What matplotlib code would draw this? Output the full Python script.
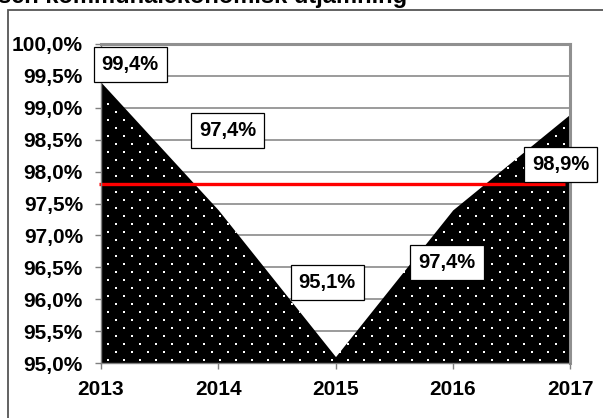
import matplotlib
matplotlib.use("Agg")
import matplotlib.pyplot as plt
from matplotlib.patches import Rectangle
import numpy as np

plt.rcParams['font.family'] = ['Liberation Sans', 'DejaVu Sans']
plt.rcParams['font.weight'] = 'bold'

# data
years = [2013, 2014, 2015, 2016, 2017]
values = [99.4, 97.4, 95.1, 97.4, 98.9]
labels = ['99,4%', '97,4%', '95,1%', '97,4%', '98,9%']
# where each value label sits
label_x = [2013.25, 2014.08, 2014.93, 2015.95, 2016.92]
label_y = [99.68, 98.64, 96.26, 96.57, 98.11]
mean_level = 97.8
yticks = [95.0, 95.5, 96.0, 96.5, 97.0, 97.5, 98.0, 98.5, 99.0, 99.5, 100.0]
title = 'sen kommunalekonomisk utjämning'

fig = plt.figure(figsize=(6.03, 4.18), dpi=100)
ax = fig.add_axes([101/603, 1 - 363/418, 469/603, 319/418])

# outer frame of the chart object
frame = Rectangle((8/603, -0.1), 1.2, 1.1 - 10/418, transform=fig.transFigure,
                  fill=False, edgecolor='#555555', linewidth=1.3, clip_on=False)
fig.patches.append(frame)

fig.text(-0.004, 1 - 3.5/418, title, fontsize=17, fontweight='bold', ha='left', va='baseline')

ax.set_xlim(2013, 2017)
ax.set_ylim(95, 100)

for yv in yticks[1:-1]:
    ax.axhline(yv, color='#808080', linewidth=1.1, zorder=1)

poly = ax.fill_between(years, 95, values, facecolor='black', edgecolor='black',
                       linewidth=0, zorder=2)

# white dot texture inside the area
px_w, px_h = 469, 319
pts_x, pts_y = [], []
for i, yy in enumerate(np.arange(3, px_h, 8)):
    off = 8 if i % 2 else 0
    for xx in np.arange(7 + off, px_w, 16):
        pts_x.append(xx / px_w)
        pts_y.append(yy / px_h)
dots = ax.scatter(pts_x, pts_y, s=3.0, marker='s', color='white', linewidths=0,
                  transform=ax.transAxes, zorder=3)
dots.set_clip_path(poly.get_paths()[0], ax.transData)

ax.plot([2012.98, 2016.96], [mean_level, mean_level], color='#ff0000',
        linewidth=2.4, zorder=4, clip_on=False, solid_capstyle='butt')

for lx, ly, t in zip(label_x, label_y, labels):
    ax.text(lx, ly, t, fontsize=14.5, fontweight='bold', ha='center', va='center',
            zorder=6, clip_on=False,
            bbox=dict(boxstyle='square,pad=0.4', facecolor='white',
                      edgecolor='black', linewidth=0.9))

ax.set_xticks(years)
ax.set_xticklabels([str(y) for y in years])
ax.set_yticks(yticks)
ax.set_yticklabels([('%.1f%%' % v).replace('.', ',') for v in yticks])
ax.tick_params(axis='both', labelsize=15, colors='#808080', labelcolor='black',
               length=4, width=1)
ax.tick_params(axis='y', pad=9)
ax.tick_params(axis='x', pad=8)
for lab in ax.get_xticklabels() + ax.get_yticklabels():
    lab.set_fontweight('bold')

for side in ['left', 'bottom']:
    ax.spines[side].set_color('#808080')
    ax.spines[side].set_linewidth(1)
for side in ['top', 'right']:
    ax.spines[side].set_color('#909090')
    ax.spines[side].set_linewidth(2.2)
for sp in ax.spines.values():
    sp.set_zorder(5)

fig.savefig('out.png', dpi=100)
